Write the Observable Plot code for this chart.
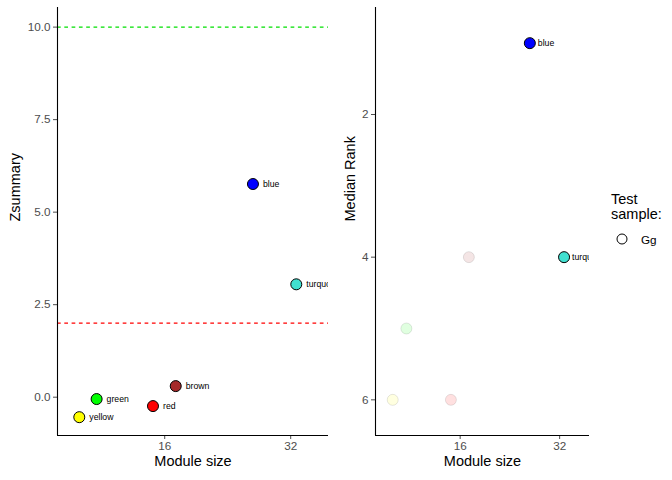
<!DOCTYPE html>
<html>
<head>
<meta charset="utf-8">
<script src="https://cdn.jsdelivr.net/npm/d3@7"></script>
<script src="https://cdn.jsdelivr.net/npm/@observablehq/plot@0.6"></script>
<style>
  body { margin: 0; background: #fff; }
  #wrap { position: relative; width: 672px; height: 480px; font-family: "Liberation Sans", Arial, sans-serif; }
  #wrap > svg, #wrap > div { position: absolute; top: 0; }
</style>
</head>
<body>
<div id="wrap"></div>
<script>
// ---- data ----
const modules = ["yellow", "green", "red", "brown", "blue", "turquoise"];
const moduleSize = [10, 11, 15, 17, 26, 33];
const zsummary = [-0.54, -0.05, -0.24, 0.30, 5.76, 3.05];
const medianRank = [6, 5, 6, 4, 1, 4];
const moduleColors = ["#FFFF00", "#00FF00", "#FF0000", "#A52A2A", "#0000FF", "#40E0D0"];
const thresholds = [2, 10];
const thresholdColors = ["#FF0000", "#00E000"];
const xTicks = [16, 32];
const zTicks = [0, 2.5, 5, 7.5, 10];
const rankTicks = [2, 4, 6];
const testSample = ["Gg"];

const rows = modules.map((m, i) => ({
  module: m, size: moduleSize[i], z: zsummary[i], rank: medianRank[i],
  color: moduleColors[i], strong: zsummary[i] > thresholds[0]
}));

const FONT = "Liberation Sans, Arial, sans-serif";
const xDomain = [8.87, 39.4];
const wrap = document.getElementById("wrap");

// ---- left panel: Zsummary ----
const zDomain = [-1.035, 10.53];
const left = Plot.plot({
  width: 340, height: 480,
  marginLeft: 57, marginRight: 12, marginTop: 7, marginBottom: 45,
  style: { fontFamily: FONT, fontSize: "11.7px", background: "transparent", overflow: "visible" },
  x: { type: "log", base: 2, domain: xDomain },
  y: { domain: zDomain },
  marks: [
    ...thresholds.map((t, i) => Plot.ruleY([t], { stroke: thresholdColors[i], strokeWidth: 1.3, strokeDasharray: "3.7,3.6" })),
    Plot.axisX({ ticks: xTicks, tickFormat: d => String(d), tickSize: 4, tickPadding: 2, label: null, color: "#4D4D4D", fontSize: 11.7 }),
    Plot.axisY({ ticks: zTicks, tickFormat: d3.format(".1f"), tickSize: 4, tickPadding: 3, label: null, color: "#4D4D4D", fontSize: 11.7 }),
    Plot.ruleX([xDomain[0]], { stroke: "#000", strokeWidth: 1.1 }),
    Plot.ruleY([zDomain[0]], { stroke: "#000", strokeWidth: 1.1 }),
    Plot.dot(rows, { x: "size", y: "z", r: 5.5, fill: "color", stroke: "#000", strokeWidth: 1 }),
    Plot.text(rows, { x: "size", y: "z", text: "module", dx: 10, textAnchor: "start", fontSize: 8.7, fill: "#000", clip: true }),
    Plot.text(["Module size"], { frameAnchor: "bottom", dy: 30, fontSize: 14.5, fill: "#000" }),
    Plot.text(["Zsummary"], { frameAnchor: "left", dx: -42, rotate: -90, fontSize: 14.5, fill: "#000" })
  ]
});
left.style.left = "0px";
wrap.appendChild(left);

// ---- right panel: Median Rank ----
const rDomain = [0.5, 6.5];
const right = Plot.plot({
  width: 250, height: 480,
  marginLeft: 35, marginRight: 1, marginTop: 7, marginBottom: 45,
  style: { fontFamily: FONT, fontSize: "11.7px", background: "transparent", overflow: "visible" },
  x: { type: "log", base: 2, domain: xDomain },
  y: { domain: rDomain, reverse: true },
  marks: [
    Plot.axisX({ ticks: xTicks, tickFormat: d => String(d), tickSize: 4, tickPadding: 2, label: null, color: "#4D4D4D", fontSize: 11.7 }),
    Plot.axisY({ ticks: rankTicks, tickFormat: d => String(d), tickSize: 4, tickPadding: 3, label: null, color: "#4D4D4D", fontSize: 11.7 }),
    Plot.ruleX([xDomain[0]], { stroke: "#000", strokeWidth: 1.1 }),
    Plot.ruleY([rDomain[1]], { stroke: "#000", strokeWidth: 1.1 }),
    Plot.dot(rows.filter(d => !d.strong), { x: "size", y: "rank", r: 5.5, fill: "color", stroke: "#000", strokeWidth: 1, fillOpacity: 0.12, strokeOpacity: 0.1 }),
    Plot.dot(rows.filter(d => d.strong), { x: "size", y: "rank", r: 5.5, fill: "color", stroke: "#000", strokeWidth: 1 }),
    Plot.text(rows.filter(d => d.strong), { x: "size", y: "rank", text: "module", dx: 8, textAnchor: "start", fontSize: 8.7, fill: "#000", clip: true }),
    Plot.text(["Module size"], { frameAnchor: "bottom", dy: 30, fontSize: 14.5, fill: "#000" }),
    Plot.text(["Median Rank"], { frameAnchor: "left", dx: -25, rotate: -90, fontSize: 14.5, fill: "#000" })
  ]
});
right.style.left = "340px";
wrap.appendChild(right);

// ---- legend ----
const legend = document.createElement("div");
legend.style.left = "611px";
legend.style.top = "192px";
legend.style.fontFamily = FONT;
legend.innerHTML =
  `<div style="font-size:14.5px;line-height:15px;color:#000">Test<br>sample:</div>` +
  testSample.map(s =>
    `<div style="display:flex;align-items:center;margin-top:9px">` +
    `<svg width="22" height="16" style="display:block"><circle cx="11" cy="8" r="5" fill="none" stroke="#000" stroke-width="1"/></svg>` +
    `<span style="font-size:11.7px;margin-left:8px;color:#000">${s}</span></div>`
  ).join("");
wrap.appendChild(legend);
</script>
</body>
</html>
